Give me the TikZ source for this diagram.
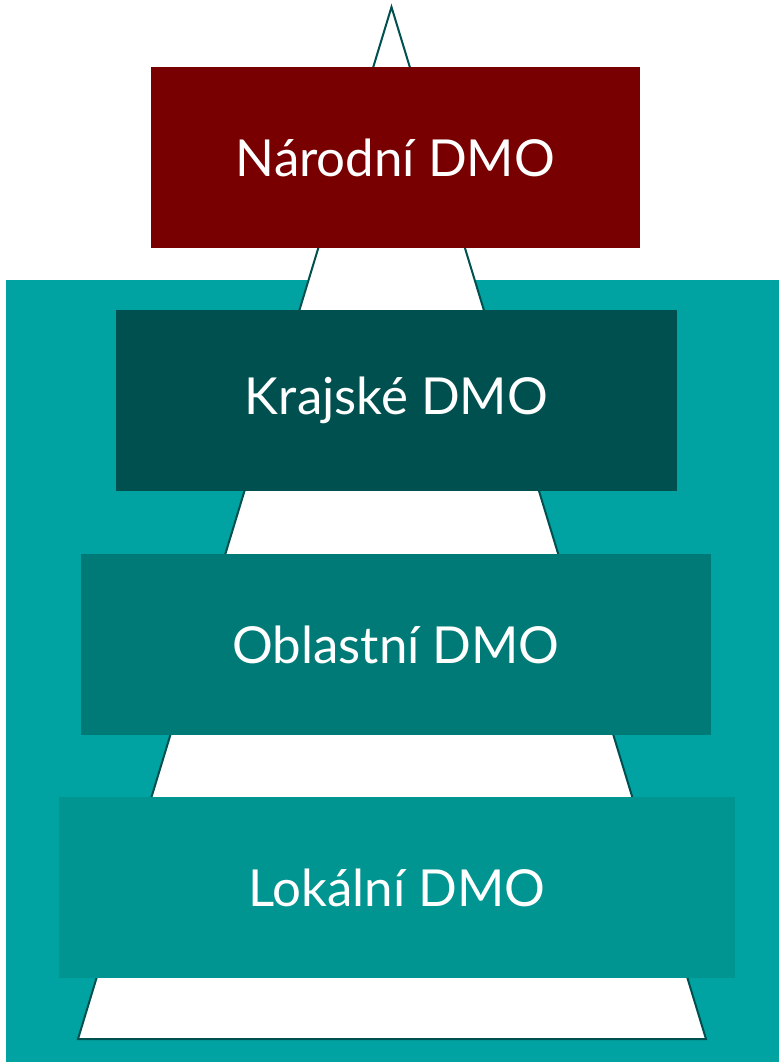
\documentclass[tikz,border=0pt]{standalone}
\usepackage{fontspec}
\setmainfont{Lato}
\usetikzlibrary{positioning}
\definecolor{lightteal}{HTML}{00A3A1}
\definecolor{darkred}{HTML}{780000}
\definecolor{darkteal}{HTML}{005050}
\definecolor{midteal}{HTML}{007A76}
\definecolor{softteal}{HTML}{009591}

\begin{document}
\begin{tikzpicture}[x=1pt,y=-1pt,
   level/.style={inner sep=0pt, minimum height=181pt, text=white,
     font=\fontsize{51}{55}\selectfont}]
   \useasboundingbox (0,0) rectangle (779,1062);
   \fill[lightteal] (6,280) rectangle (779,1062);
   % pyramid behind the levels
   \coordinate (apex) at (391.5,7);
   \coordinate (baseleft) at (78,1039);
   \coordinate (baseright) at (706,1039);
   \draw[darkteal, line width=2pt, fill=white, line join=miter]
     (apex) -- (baseright) -- (baseleft) -- cycle;
   \node[level, fill=darkred, minimum width=489pt] (narodni) at (395.5,157.5)
   {Národní DMO};
   \node[level, fill=darkteal, minimum width=561pt] (krajske) at (396.5,400.5)
   {Krajské DMO};
   \node[level, fill=midteal, minimum width=630pt] (oblastni) at (396,644.5)
   {Oblastní DMO};
   \node[level, fill=softteal, minimum width=676pt] (lokalni) at (397,887.5)
   {Lokální DMO};
\end{tikzpicture}
\end{document}
